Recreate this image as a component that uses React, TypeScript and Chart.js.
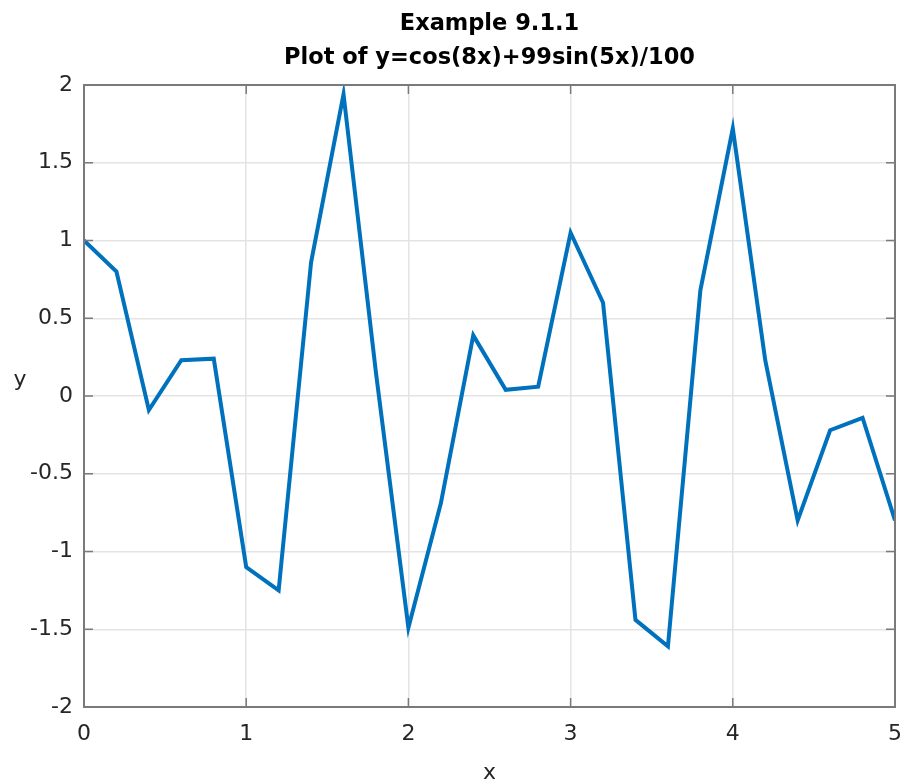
import React, { useEffect, useRef } from "react";
import { Chart, registerables } from "chart.js";

Chart.register(...registerables);

const xValues = [0, 0.2, 0.4, 0.6, 0.8, 1.0, 1.2, 1.4, 1.6, 1.8, 2.0, 2.2, 2.4, 2.6, 2.8, 3.0, 3.2, 3.4, 3.6, 3.8, 4.0, 4.2, 4.4, 4.6, 4.8, 5.0];
const yValues = [1.0, 0.8, -0.09, 0.23, 0.24, -1.1, -1.25, 0.86, 1.94, 0.15, -1.49, -0.69, 0.39, 0.04, 0.06, 1.05, 0.6, -1.44, -1.61, 0.68, 1.72, 0.23, -0.8, -0.22, -0.14, -0.8];
const titleLines = ["Example 9.1.1", "Plot of y=cos(8x)+99sin(5x)/100"];
const xLabel = "x";
const yLabel = "y";

const FONT = '"DejaVu Sans", "Liberation Sans", Arial, sans-serif';

const framePlugin = {
  id: "frame",
  afterDraw(chart: any) {
    const { ctx, chartArea } = chart;
    const { left, right, top, bottom } = chartArea;
    const xs = chart.scales.x;
    const ys = chart.scales.y;
    ctx.save();
    ctx.strokeStyle = "#7a7a7a";
    ctx.lineWidth = 1.5;
    ctx.beginPath();
    xs.ticks.forEach((t: any) => {
      const px = xs.getPixelForValue(t.value);
      ctx.moveTo(px, bottom);
      ctx.lineTo(px, bottom - 9);
      ctx.moveTo(px, top);
      ctx.lineTo(px, top + 9);
    });
    ys.ticks.forEach((t: any) => {
      const py = ys.getPixelForValue(t.value);
      ctx.moveTo(left, py);
      ctx.lineTo(left + 9, py);
      ctx.moveTo(right, py);
      ctx.lineTo(right - 9, py);
    });
    ctx.stroke();
    ctx.lineWidth = 2;
    ctx.strokeRect(left, top, right - left, bottom - top);

    ctx.fillStyle = "#262626";
    ctx.font = `22px ${FONT}`;
    ctx.textAlign = "center";
    ctx.textBaseline = "alphabetic";
    ctx.fillText(xLabel, (left + right) / 2, bottom + 72);
    ctx.fillText(yLabel, 20, (top + bottom) / 2 - 10);
    ctx.restore();
  },
};

export default function App() {
  const canvasRef = useRef<HTMLCanvasElement | null>(null);

  useEffect(() => {
    if (!canvasRef.current) return;
    const points = xValues.map((x, i) => ({ x, y: yValues[i] }));
    const chart = new Chart(canvasRef.current, {
      type: "line",
      data: {
        datasets: [
          {
            data: points,
            borderColor: "#0072BD",
            backgroundColor: "#0072BD",
            borderWidth: 4,
            pointRadius: 0,
            tension: 0,
            fill: false,
          },
        ],
      },
      options: {
        responsive: false,
        animation: false,
        devicePixelRatio: 1,
        layout: { padding: { left: 0, right: 0, top: 0, bottom: 0 } },
        plugins: {
          legend: { display: false },
          tooltip: { enabled: false },
          title: {
            display: true,
            fullSize: false,
            text: titleLines,
            color: "#000000",
            font: { family: FONT, size: 22.5, weight: "bold", lineHeight: 34 / 22.5 },
            padding: { top: 7.5, bottom: 9.5 },
          },
        },
        scales: {
          x: {
            type: "linear",
            min: 0,
            max: 5,
            ticks: {
              stepSize: 1,
              color: "#262626",
              font: { family: FONT, size: 22 },
              padding: 14,
              maxRotation: 0,
              callback: (v: any) => String(Number(v)),
            },
            grid: { color: "#e4e4e4", lineWidth: 1.5, drawTicks: false },
            border: { display: false },
            afterFit(scale: any) {
              scale.height = 74;
              scale.paddingLeft = 0;
              scale.paddingRight = 7;
            },
          },
          y: {
            type: "linear",
            min: -2,
            max: 2,
            ticks: {
              stepSize: 0.5,
              color: "#262626",
              font: { family: FONT, size: 22 },
              padding: 11,
              callback: (v: any) => String(Number(v)),
            },
            grid: { color: "#e4e4e4", lineWidth: 1.5, drawTicks: false },
            border: { display: false },
            afterFit(scale: any) {
              scale.width = 84;
              scale.paddingTop = 0;
              scale.paddingBottom = 0;
            },
          },
        },
      },
      plugins: [framePlugin],
    });
    return () => chart.destroy();
  }, []);

  return (
    <div style={{ position: "fixed", left: 0, top: 0, width: 902, height: 781, background: "#fff" }}>
      <canvas ref={canvasRef} width={902} height={781} style={{ width: 902, height: 781, display: "block" }} />
    </div>
  );
}
